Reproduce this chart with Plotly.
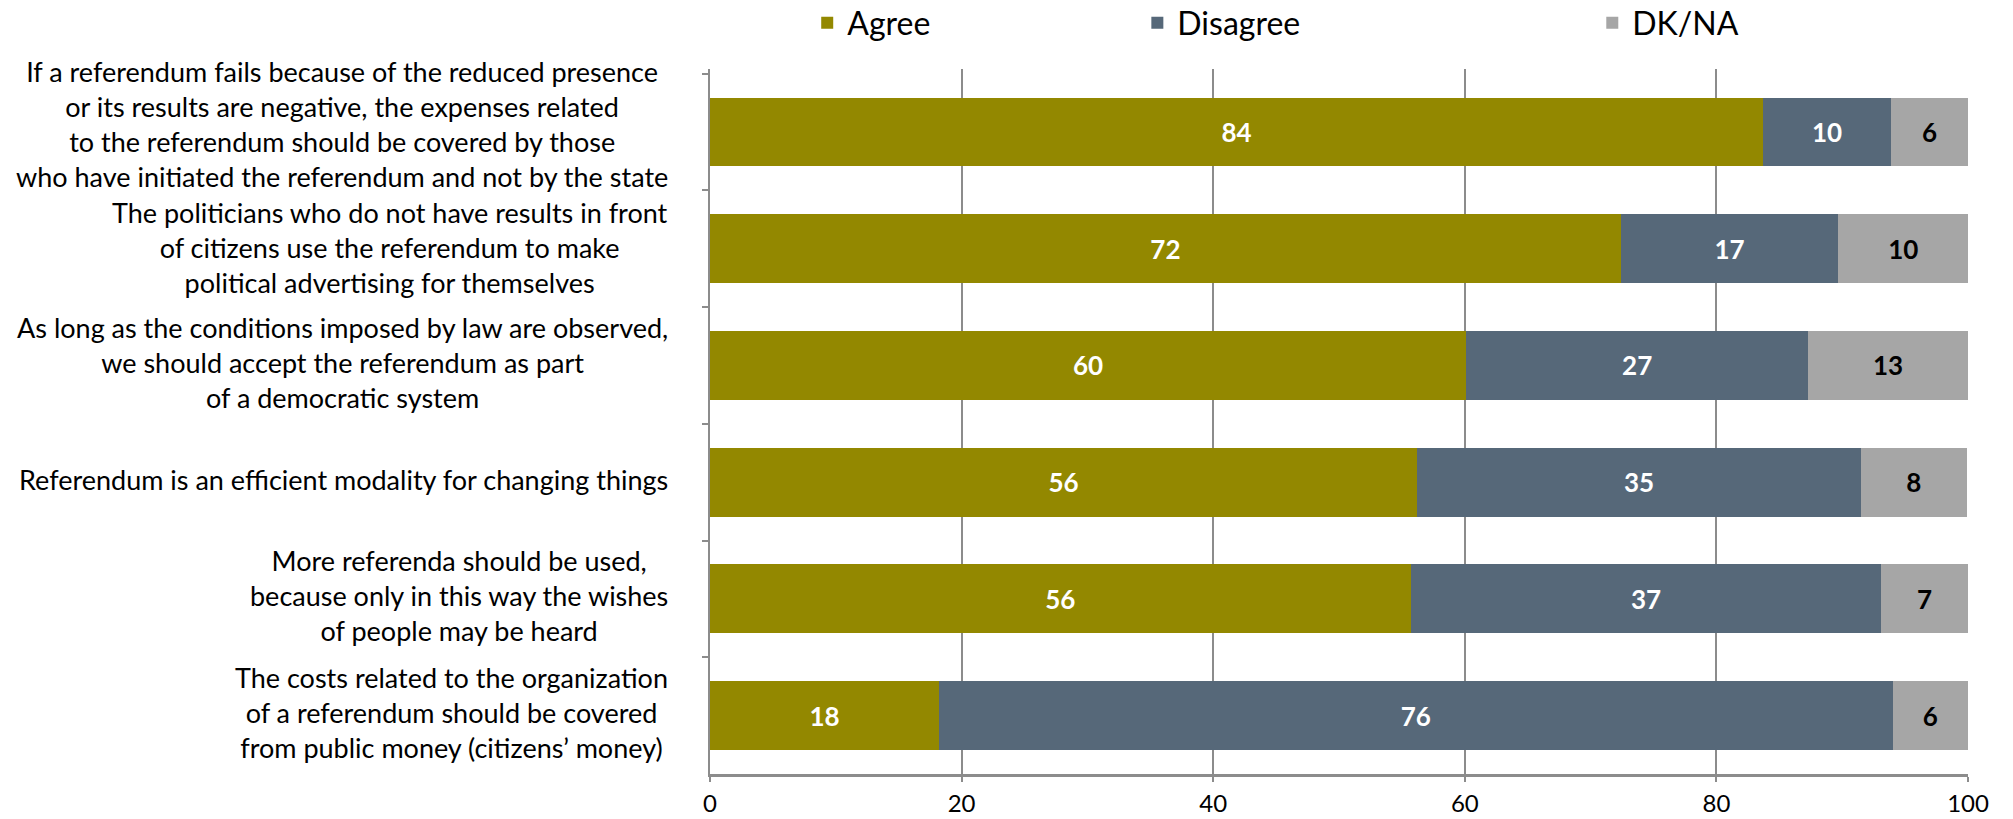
import plotly.graph_objects as go

categories = [
    "If a referendum fails because of the reduced presence<br>or its results are negative, the expenses related<br>to the referendum should be covered by those<br>who have initiated the referendum and not by the state",
    "The politicians who do not have results in front<br>of citizens use the referendum to make<br>political advertising for themselves",
    "As long as the conditions imposed by law are observed,<br>we should accept the referendum as part<br>of a democratic system",
    "Referendum is an efficient modality for changing things",
    "More referenda should be used,<br>because only in this way the wishes<br>of people may be heard",
    "The costs related to the organization<br>of a referendum should be covered<br>from public money (citizens’ money)",
]
agree = [83.7, 72.4, 60.1, 56.2, 55.7, 18.2]
disagree = [10.2, 17.3, 27.2, 35.3, 37.4, 75.8]
dkna = [6.1, 10.3, 12.7, 8.4, 6.9, 6.0]
x_ticks = [0, 20, 40, 60, 80, 100]

FONT = "Lato"
cat_ids = [f"c{i}" for i in range(len(categories))]
label_yshift = [8, 1, 3, 3, 3, 3]

fig = go.Figure()
series = [
    ("Agree", agree, "#938800", "white", "legend"),
    ("Disagree", disagree, "#566879", "white", "legend2"),
    ("DK/NA", dkna, "#A6A6A6", "black", "legend3"),
]
for name, vals, color, tcolor, lg in series:
    fig.add_trace(go.Bar(
        y=cat_ids, x=vals, name=name, orientation="h",
        marker=dict(color=color, line=dict(width=0)),
        texttemplate="%{x:.0f}", textposition="inside",
        insidetextanchor="middle", textangle=0,
        textfont=dict(family=FONT, size=26, color=tcolor, weight="bold"),
        legend=lg,
    ))

for cid, label, ys in zip(cat_ids, categories, label_yshift):
    fig.add_annotation(
        x=0, xref="paper", y=cid, yref="y", text=label,
        xanchor="right", yanchor="middle", align="center",
        xshift=-40, yshift=ys, showarrow=False,
        font=dict(family=FONT, size=27, color="black"),
    )

legend_common = dict(orientation="h", yanchor="middle", xanchor="left",
                     xref="container", yref="container",
                     font=dict(family=FONT, size=32, color="black"),
                     bgcolor="rgba(0,0,0,0)")
fig.update_layout(
    barmode="stack",
    bargap=0.41,
    width=2013, height=819,
    margin=dict(l=710, r=45, t=69, b=45, autoexpand=False),
    plot_bgcolor="white", paper_bgcolor="white",
    font=dict(family=FONT),
    showlegend=True,
    legend=dict(x=0.401, y=0.972, **legend_common),
    legend2=dict(x=0.565, y=0.972, **legend_common),
    legend3=dict(x=0.791, y=0.972, **legend_common),
    xaxis=dict(range=[0, 100], tickvals=x_ticks, showgrid=True,
               gridcolor="#8C8C8C", gridwidth=2, showline=True,
               linecolor="#8C8C8C", linewidth=3, ticks="outside",
               ticklen=5, tickcolor="#8C8C8C", tickwidth=2,
               tickfont=dict(family=FONT, size=24, color="black"),
               ticklabelstandoff=1, zeroline=False, automargin=False),
    yaxis=dict(categoryorder="array", categoryarray=cat_ids,
               autorange="reversed", showticklabels=False,
               showline=True, linecolor="#8C8C8C", linewidth=2,
               ticks="outside", ticklen=6, tickcolor="#8C8C8C",
               tickwidth=2, tickson="boundaries", showgrid=False,
               automargin=False),
)
fig.write_html("out.html", config={"displayModeBar": False},
               post_script="document.body.style.margin='0';document.body.style.overflow='hidden';")
